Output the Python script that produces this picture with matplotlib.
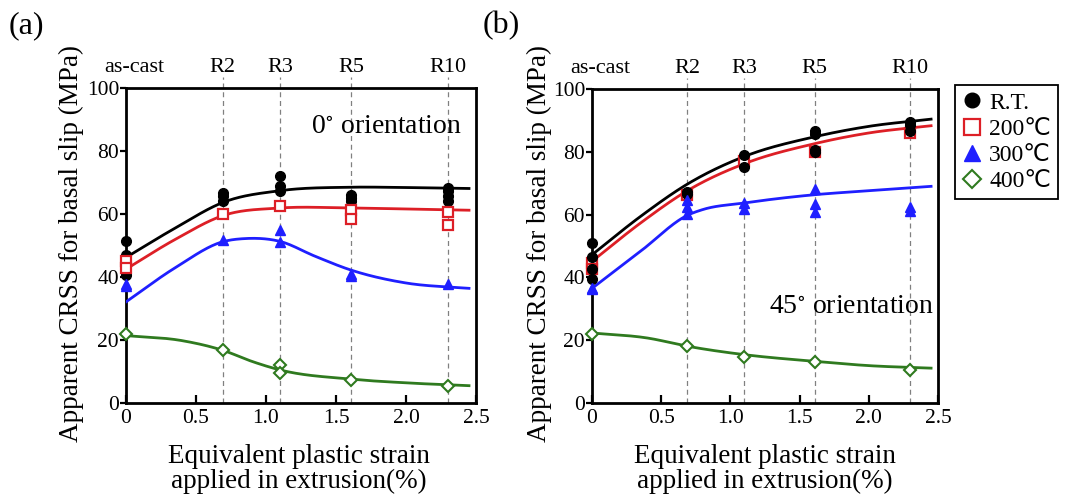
import numpy as np
import matplotlib
matplotlib.use('Agg')
import matplotlib.pyplot as plt

plt.rcParams['font.family'] = ['Liberation Serif', 'DejaVu Sans']
plt.rcParams['font.size'] = 16
plt.rcParams['mathtext.fontset'] = 'stix'

# equivalent strain of each extrusion stage (as-cast, R2, R3, R5, R10)
strain = [0.0, 0.69, 1.10, 1.61, 2.30]
stage_labels = ['as-cast', 'R2', 'R3', 'R5', 'R10']

# measured CRSS (MPa), one list of repeats per stage -- 0 deg orientation
rt_0 = [[51.3, 47.0, 40.5], [66.7, 65.6, 64.0], [72.2, 68.8, 67.4], [66.1, 65.0, 64.0], [68.3, 67.2, 65.6, 64.0]]
t200_0 = [[45.0, 42.7], [60.1], [62.6], [61.4, 58.4], [60.5, 56.6]]
t300_0 = [[37.8, 37.2], [51.9], [54.8, 51.0], [40.9, 40.2], [37.9]]
t400_0 = [[22.0], [16.9], [12.2, 9.6], [7.4], [5.3]]

# 45 deg orientation
rt_45 = [[51.0, 46.6, 42.6, 39.4], [67.2, 66.7], [79.0, 75.3], [86.6, 85.7, 80.6, 79.9], [89.4, 88.4, 86.5]]
t200_45 = [[44.7, 42.6], [66.1], [77.2], [79.9], [86.0]]
t300_45 = [[36.7, 36.3], [64.6, 62.5, 60.1], [63.7, 61.9], [68.3, 63.5, 60.8], [62.5, 61.2]]
t400_45 = [[22.0], [18.0], [14.8], [13.2], [10.4]]

# trend curves (knots along each fitted line)
fit_x = [0.0, 0.35, 0.7, 1.1, 1.6, 2.0, 2.45]
fit_rt_0 = [46.2, 55.5, 63.8, 67.4, 68.5, 68.4, 68.1]
fit_200_0 = [42.5, 51.9, 59.6, 61.9, 61.9, 61.6, 61.2]
fit_300_0_x = [0.0, 0.35, 0.7, 0.85, 1.1, 1.35, 1.6, 2.0, 2.45]
fit_300_0 = [32.1, 42.9, 51.3, 52.2, 51.3, 46.6, 42.3, 38.1, 36.4]
fit_400_0_x = [0.0, 0.4, 0.7, 0.9, 1.1, 1.6, 2.0, 2.45]
fit_400_0 = [21.4, 19.8, 16.6, 13.2, 10.5, 7.6, 6.4, 5.5]

fit_rt_45 = [47.2, 59.4, 70.0, 78.5, 84.7, 88.1, 90.4]
fit_200_45 = [45.1, 57.3, 67.9, 76.2, 82.5, 86.0, 88.3]
fit_300_45_x = [0.0, 0.35, 0.7, 0.8, 1.1, 1.6, 2.0, 2.45]
fit_300_45 = [36.5, 48.3, 60.0, 61.6, 63.7, 66.3, 67.6, 69.0]
fit_400_45_x = [0.0, 0.4, 0.7, 1.1, 1.6, 2.0, 2.45]
fit_400_45 = [22.3, 20.7, 18.0, 15.4, 13.3, 11.9, 11.1]

RED = '#dd1f26'
BLUE = '#1f1fff'
GREEN = '#2f7a1f'

styles = {
    'rt': dict(marker='o', color='black', mfc='black', mec='black', ms=7),
    '200': dict(marker='s', color=RED, mfc='white', mec=RED, mew=1.6, ms=7.5),
    '300': dict(marker='^', color=BLUE, mfc=BLUE, mec=BLUE, ms=7.5),
    '400': dict(marker='D', color=GREEN, mfc='white', mec=GREEN, mew=1.5, ms=6),
}


def smooth(xk, yk, n=300):
    # cubic Hermite curve through the knots
    xk = np.asarray(xk, float)
    yk = np.asarray(yk, float)
    m = np.gradient(yk, xk)
    xs = np.linspace(xk[0], xk[-1], n)
    i = np.clip(np.searchsorted(xk, xs) - 1, 0, len(xk) - 2)
    h = xk[i + 1] - xk[i]
    t = (xs - xk[i]) / h
    ys = ((2 * t**3 - 3 * t**2 + 1) * yk[i] + (t**3 - 2 * t**2 + t) * h * m[i]
          + (-2 * t**3 + 3 * t**2) * yk[i + 1] + (t**3 - t**2) * h * m[i + 1])
    return xs, ys


def scatter_stages(ax, values, key):
    xs = [strain[k] for k, v in enumerate(values) for _ in v]
    ys = [y for v in values for y in v]
    return ax.plot(xs, ys, ls='none', zorder=4, clip_on=False, **styles[key])[0]


def setup(ax):
    ax.set_xlim(0, 2.5)
    ax.set_ylim(0, 100)
    ax.set_xticks([0, 0.5, 1.0, 1.5, 2.0, 2.5])
    ax.set_xticklabels(['0', '0.5', '1.0', '1.5', '2.0', '2.5'])
    ax.set_yticks([0, 20, 40, 60, 80, 100])
    ax.tick_params(axis='x', direction='in', length=6, width=1.6, pad=4, labelsize=15.5)
    ax.tick_params(axis='y', direction='out', length=4, width=1.6, pad=1, labelsize=15.5)
    for s in ax.spines.values():
        s.set_linewidth(2.0)
    # extrusion stage markers above the frame
    for x, lab in zip(strain, stage_labels):
        if lab != 'as-cast':
            ax.plot([x, x], [0, 103.6], color='#808080', lw=0.9, ls=(0, (4, 3)),
                    clip_on=False, zorder=1)
            ax.text(x, 105.2, lab, ha='center', va='baseline', fontsize=16)
        else:
            ax.text(x + 0.06, 105.2, lab, ha='center', va='baseline', fontsize=16)


fig = plt.figure(figsize=(10.65, 4.96), dpi=100)
ax_a = fig.add_axes([126 / 1065, 1 - 403 / 496, 350 / 1065, 315 / 496])
ax_b = fig.add_axes([592 / 1065, 1 - 403 / 496, 346 / 1065, 314 / 496])

for ax in (ax_a, ax_b):
    setup(ax)

# (a) 0 deg orientation
ax_a.plot(*smooth(fit_x, fit_rt_0), color='black', lw=2.0, zorder=3)
ax_a.plot(*smooth(fit_x, fit_200_0), color=RED, lw=2.0, zorder=3)
ax_a.plot(*smooth(fit_300_0_x, fit_300_0), color=BLUE, lw=2.0, zorder=3)
ax_a.plot(*smooth(fit_400_0_x, fit_400_0), color=GREEN, lw=2.0, zorder=3)
h_rt = scatter_stages(ax_a, rt_0, 'rt')
h_200 = scatter_stages(ax_a, t200_0, '200')
h_300 = scatter_stages(ax_a, t300_0, '300')
h_400 = scatter_stages(ax_a, t400_0, '400')
ax_a.text(2.40, 85.7, '0$^{\\circ}$ orientation', ha='right', va='baseline', fontsize=20)

# (b) 45 deg orientation
ax_b.plot(*smooth(fit_x, fit_rt_45), color='black', lw=2.0, zorder=3)
ax_b.plot(*smooth(fit_x, fit_200_45), color=RED, lw=2.0, zorder=3)
ax_b.plot(*smooth(fit_300_45_x, fit_300_45), color=BLUE, lw=2.0, zorder=3)
ax_b.plot(*smooth(fit_400_45_x, fit_400_45), color=GREEN, lw=2.0, zorder=3)
scatter_stages(ax_b, t200_45, '200')
scatter_stages(ax_b, rt_45, 'rt')
scatter_stages(ax_b, t300_45, '300')
scatter_stages(ax_b, t400_45, '400')
ax_b.text(2.47, 28.6, '45$^{\\circ}$ orientation', ha='right', va='baseline', fontsize=20)

ylab = 'Apparent CRSS for basal slip (MPa)'
xlab = 'Equivalent plastic strain\napplied in extrusion(%)'
fig.text(71 / 1065, 1 - 243 / 496, ylab, rotation=90, ha='center', va='center', fontsize=19.5)
fig.text(539 / 1065, 1 - 243 / 496, ylab, rotation=90, ha='center', va='center', fontsize=19.5)
fig.text(299 / 1065, 1 - 469 / 496, xlab, ha='center', va='center', fontsize=19.5,
         multialignment='center', linespacing=1.02)
fig.text(765 / 1065, 1 - 469 / 496, xlab, ha='center', va='center', fontsize=19.5,
         multialignment='center', linespacing=1.02)

fig.text(9 / 1065, 1 - 11 / 496, '(a)', ha='left', va='top', fontsize=23)
fig.text(483 / 1065, 1 - 11 / 496, '(b)', ha='left', va='top', fontsize=23)

leg = fig.legend([h_rt, h_200, h_300, h_400], ['R.T.', '200\u2103', '300\u2103', '400\u2103'],
                 loc='upper left', bbox_to_anchor=(955 / 1065, 1 - 85 / 496),
                 fancybox=False, edgecolor='black', framealpha=1, fontsize=17,
                 markerscale=1.5, handlelength=0.8, handletextpad=0.35,
                 labelspacing=0.2, borderpad=0.3, borderaxespad=0)
leg.get_frame().set_linewidth(1.3)

fig.savefig('out.png', dpi=100)
